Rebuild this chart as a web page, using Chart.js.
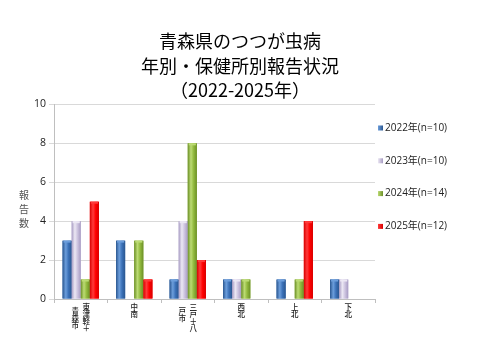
<!DOCTYPE html>
<html>
<head>
<meta charset="utf-8">
<script src="https://cdn.jsdelivr.net/npm/chart.js@4.4.0/dist/chart.umd.min.js"></script>
<style>
  body { margin: 0; background: #fff; }
  #wrap { width: 480px; height: 360px; }
</style>
</head>
<body>
<div id="wrap"><canvas id="myChart" width="480" height="360"></canvas></div>
<script>
// categories (保健所) and how they are written vertically, right column first
const categories = ['東津軽+青森市', '中南', '三戸+八戸市', '西北', '上北', '下北'];
const labelColumns = [['東津軽＋', '青森市'], ['中南'], ['三戸＋八', '戸市'], ['西北'], ['上北'], ['下北']];

const seriesNames = ['2022年(n=10)', '2023年(n=10)', '2024年(n=14)', '2025年(n=12)'];
const values2022 = [3, 3, 1, 1, 1, 1];
const values2023 = [4, 0, 4, 1, 0, 1];
const values2024 = [1, 3, 8, 1, 1, 0];
const values2025 = [5, 1, 2, 0, 4, 0];

const yTicks = [0, 2, 4, 6, 8, 10];
const titleLines = ['青森県のつつが虫病', '年別・保健所別報告状況', '（2022-2025年）'];
const yTitle = ['報', '告', '数'];

// base, light, dark
const palette = [
    ['#3B71B8', '#6C9EDC', '#2A568F'],
    ['#CCC3DF', '#ECE8F4', '#A69AC2'],
    ['#91B93D', '#BCDB74', '#6B8F27'],
    ['#FF0000', '#FF3B3B', '#D80000']
];

const allValues = [values2022, values2023, values2024, values2025];

//shade every bar like a little cylinder
const barShade = {
    id: 'barShade',
    afterDatasetsDraw(chart) {
        const ctx = chart.ctx;
        chart.data.datasets.forEach((ds, i) => {
            const meta = chart.getDatasetMeta(i);
            const col = palette[i];
            meta.data.forEach(bar => {
                const h = bar.base - bar.y;
                if (h <= 0) return;
                const x0 = bar.x - bar.width / 2;
                const g = ctx.createLinearGradient(x0, 0, x0 + bar.width, 0);
                g.addColorStop(0, col[2]);
                g.addColorStop(0.35, col[1]);
                g.addColorStop(0.65, col[0]);
                g.addColorStop(1, col[2]);
                ctx.save();
                ctx.fillStyle = g;
                ctx.fillRect(x0, bar.y, bar.width, h);
                ctx.fillStyle = col[1];
                ctx.fillRect(x0 + 1, bar.y, bar.width - 2, 2);
                ctx.restore();
            });
        });
    }
};

//vertical category labels, stacked y axis title and the legend
const extraText = {
    id: 'extraText',
    afterDraw(chart) {
        const ctx = chart.ctx;
        const xs = chart.scales.x;
        const area = chart.chartArea;
        ctx.save();
        ctx.fillStyle = '#222';
        ctx.font = '500 7.5px "Noto Sans CJK JP"';
        ctx.textAlign = 'center';
        ctx.textBaseline = 'top';
        labelColumns.forEach((cols, i) => {
            const cx = xs.getPixelForValue(i);
            const gap = 11;
            cols.forEach((col, c) => {
                const x = cx + (cols.length - 1) * gap / 2 - c * gap;
                const start = area.bottom + 4 + c * 4;
                Array.from(col).forEach((ch, k) => {
                    ctx.fillText(ch, x, start + k * 7);
                });
            });
        });

        ctx.font = '10px "Noto Sans CJK JP"';
        ctx.fillStyle = '#555';
        ctx.textBaseline = 'middle';
        const mid = (area.top + area.bottom) / 2;
        yTitle.forEach((ch, k) => {
            ctx.fillText(ch, 24, mid - 6.5 + k * 14);
        });

        // legend
        ctx.textAlign = 'left';
        ctx.font = '10px "Open Sans", "Noto Sans CJK JP"';
        seriesNames.forEach((name, i) => {
            const y = 128 + i * 32.8;
            const bx = area.right + 3;
            const g = ctx.createLinearGradient(bx, 0, bx + 5, 0);
            g.addColorStop(0, palette[i][1]);
            g.addColorStop(1, palette[i][2]);
            ctx.fillStyle = g;
            ctx.fillRect(bx, y - 2.5, 5, 5);
            ctx.fillStyle = '#222';
            ctx.fillText(name, bx + 7, y);
        });
        ctx.restore();
    }
};

const data = {
    labels: categories,
    datasets: allValues.map((vals, i) => ({
        label: seriesNames[i],
        data: vals,
        backgroundColor: palette[i][0],
        borderWidth: 0,
        categoryPercentage: 0.68,
        barPercentage: 1.0
    }))
};

const config = {
    type: 'bar',
    data: data,
    options: {
        responsive: false,
        animation: false,
        layout: { padding: 0 },
        plugins: {
            title: {
                display: true,
                text: titleLines,
                color: '#000',
                font: { family: '"Noto Sans CJK JP"', size: 18, weight: 'normal', lineHeight: 1.36 },
                padding: { top: 29, bottom: 2 }
            },
            legend: { display: false },
            tooltip: { enabled: false }
        },
        scales: {
            x: {
                grid: { drawOnChartArea: false, drawTicks: true, tickLength: 4, color: '#BFBFBF', offset: true },
                border: { color: '#BFBFBF' },
                ticks: { callback: () => '' },
                afterFit: (axis) => { axis.height = 61; }
            },
            y: {
                min: 0,
                max: 10,
                afterBuildTicks: (axis) => { axis.ticks = yTicks.map(v => ({ value: v })); },
                grid: { color: '#D9D9D9', tickLength: 5, drawTicks: true },
                border: { color: '#BFBFBF' },
                ticks: {
                    color: '#222',
                    padding: 3,
                    font: { family: '"Open Sans"', size: 10.5 }
                },
                afterFit: (axis) => { axis.width = 54; }
            },
            // empty axis only to keep room for the legend on the right
            yRight: {
                position: 'right',
                display: true,
                grid: { display: false },
                border: { display: false },
                ticks: { display: false },
                afterFit: (axis) => { axis.width = 105; }
            }
        }
    },
    plugins: [barShade, extraText]
};

const myChart = new Chart(document.getElementById('myChart'), config);
</script>
</body>
</html>
